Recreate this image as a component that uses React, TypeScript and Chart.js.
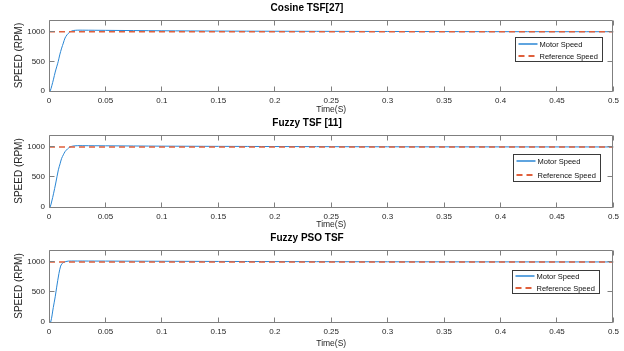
import React, { useEffect, useRef } from 'react';
import { Chart, registerables } from 'chart.js';

Chart.register(...registerables);

// Axis ticks and labels
const xTicks = [0, 0.05, 0.1, 0.15, 0.2, 0.25, 0.3, 0.35, 0.4, 0.45, 0.5];
const yTicks = [0, 500, 1000];
const seriesLabels = ['Motor Speed', 'Reference Speed'];
const panelTitles = ['Cosine TSF[27]', 'Fuzzy TSF [11]', 'Fuzzy PSO TSF'];
const referenceSpeed = 1000;

// Cosine TSF speed response (s, rpm)
const cosineTime = [0, 0.001, 0.0025, 0.004, 0.0055, 0.007, 0.0082, 0.0095, 0.0112, 0.0127, 0.0142, 0.016, 0.018, 0.02, 0.0215, 0.025, 0.03, 0.05, 0.1, 0.15, 0.2, 0.3, 0.4, 0.5];
const cosineSpeed = [0, 0, 90, 200, 320, 420, 500, 610, 725, 810, 895, 950, 990, 1012, 1022, 1028, 1028, 1025, 1018, 1013, 1010, 1006, 1003, 1002];

// Fuzzy TSF speed response
const fuzzyTime = [0, 0.001, 0.0025, 0.004, 0.006, 0.0083, 0.0098, 0.0112, 0.0127, 0.0142, 0.0165, 0.0186, 0.021, 0.025, 0.03, 0.05, 0.1, 0.2, 0.3, 0.5];
const fuzzySpeed = [0, 0, 100, 220, 400, 620, 720, 811, 870, 922, 970, 1000, 1015, 1022, 1022, 1020, 1014, 1008, 1004, 1001];

// Fuzzy PSO TSF speed response
const psoTime = [0, 0.0015, 0.0038, 0.0055, 0.0068, 0.0088, 0.0103, 0.0115, 0.0127, 0.015, 0.0171, 0.02, 0.03, 0.05, 0.1, 0.2, 0.3, 0.5];
const psoSpeed = [0, 0, 242, 420, 581, 808, 932, 970, 990, 1008, 1015, 1016, 1016, 1015, 1012, 1007, 1004, 1001];

const FONT = '"Liberation Sans", Arial, Helvetica, sans-serif';
const MOTOR_COLOR = '#2a86d4';
const REF_COLOR = '#e0603c';
const REF_DASH = [6, 4];
const AXIS_COLOR = '#7f7f7f';

// MATLAB-style axes: full box with inward tick marks on all four sides
const axesBoxPlugin = {
  id: 'axesBox',
  afterDatasetsDraw(chart: any) {
    const { ctx, chartArea: a, scales } = chart;
    const px = (v: number) => Math.floor(v) + 0.5;
    const L = px(a.left), R = px(a.right - 1), T = px(a.top), B = px(a.bottom);
    const len = 5;
    ctx.save();
    ctx.strokeStyle = AXIS_COLOR;
    ctx.lineWidth = 1;
    ctx.setLineDash([]);
    ctx.beginPath();
    ctx.rect(L, T, R - L, B - T);
    for (const t of scales.x.ticks) {
      const x = px(scales.x.getPixelForValue(t.value));
      ctx.moveTo(x, B); ctx.lineTo(x, B - len);
      ctx.moveTo(x, T); ctx.lineTo(x, T + len);
    }
    for (const t of scales.y.ticks) {
      const y = px(scales.y.getPixelForValue(t.value));
      ctx.moveTo(L, y); ctx.lineTo(L + len, y);
      ctx.moveTo(R, y); ctx.lineTo(R - len, y);
    }
    ctx.stroke();
    ctx.restore();
  },
};

// Boxed legend drawn inside the plot area
const boxLegendPlugin = {
  id: 'boxLegend',
  afterDraw(chart: any, _args: any, opts: any) {
    const { ctx, chartArea: a } = chart;
    const w = opts.width, h = opts.height;
    const x0 = Math.floor(a.right - opts.right - w) + 0.5;
    const y0 = Math.floor(a.top + opts.top) + 0.5;
    ctx.save();
    ctx.fillStyle = '#ffffff';
    ctx.fillRect(x0, y0, w, h);
    ctx.strokeStyle = '#3a3a3a';
    ctx.lineWidth = 1;
    ctx.setLineDash([]);
    ctx.strokeRect(x0, y0, w, h);
    const rowH = h / chart.data.datasets.length;
    chart.data.datasets.forEach((ds: any, i: number) => {
      const cy = Math.round(y0 + rowH * (i + 0.5));
      ctx.beginPath();
      ctx.strokeStyle = ds.borderColor;
      ctx.lineWidth = ds.borderWidth + 0.5;
      ctx.setLineDash(ds.borderDash || []);
      ctx.moveTo(x0 + 3, cy);
      ctx.lineTo(x0 + 22, cy);
      ctx.stroke();
      ctx.setLineDash([]);
      ctx.fillStyle = '#111111';
      ctx.font = `7.5px ${FONT}`;
      ctx.textBaseline = 'middle';
      ctx.textAlign = 'left';
      ctx.fillText(ds.label, x0 + 24, cy + 0.5);
    });
    ctx.restore();
  },
};

type PanelProps = {
  top: number;
  height: number;
  title: string;
  time: number[];
  speed: number[];
  xAxisHeight: number;
  timeTitlePad: number;
  legend: { right: number; top: number; width: number; height: number };
};

function SpeedPanel(p: PanelProps) {
  const ref = useRef<HTMLCanvasElement | null>(null);

  useEffect(() => {
    if (!ref.current) return;
    const tickFont = { family: FONT, size: 8 };
    const chart = new Chart(ref.current, {
      type: 'line',
      data: {
        datasets: [
          {
            label: seriesLabels[0],
            data: p.time.map((t, i) => ({ x: t, y: p.speed[i] })),
            borderColor: MOTOR_COLOR,
            borderWidth: 1,
            pointRadius: 0,
            tension: 0.3,
            order: 1,
          },
          {
            label: seriesLabels[1],
            data: [
              { x: xTicks[0], y: referenceSpeed },
              { x: xTicks[xTicks.length - 1], y: referenceSpeed },
            ],
            borderColor: REF_COLOR,
            borderWidth: 1.5,
            borderDash: REF_DASH,
            pointRadius: 0,
            order: 0,
          },
        ],
      },
      options: {
        responsive: false,
        animation: false,
        devicePixelRatio: 1,
        layout: { padding: { left: 0, right: 10, top: 0, bottom: 0 } },
        plugins: {
          legend: { display: false },
          tooltip: { enabled: false },
          title: {
            display: true,
            text: p.title,
            color: '#000000',
            font: { family: FONT, size: 10, weight: 'bold' },
            padding: { top: 2, bottom: 6 },
          },
          boxLegend: p.legend,
        } as any,
        scales: {
          x: {
            type: 'linear',
            min: xTicks[0],
            max: xTicks[xTicks.length - 1],
            afterBuildTicks: (s: any) => {
              s.ticks = xTicks.map((v) => ({ value: v }));
            },
            afterFit: (s: any) => {
              s.height = p.xAxisHeight;
            },
            grid: { display: false, drawTicks: false },
            border: { display: false },
            ticks: {
              autoSkip: false,
              maxRotation: 0,
              padding: 5,
              color: '#262626',
              font: tickFont,
              callback: (v: any) => String(+Number(v).toFixed(2)),
            },
            title: {
              display: true,
              text: 'Time(S)',
              color: '#262626',
              font: { family: FONT, size: 8.5 },
              padding: { top: 0, bottom: p.timeTitlePad },
            },
          },
          y: {
            type: 'linear',
            min: 0,
            max: 1200,
            afterBuildTicks: (s: any) => {
              s.ticks = yTicks.map((v) => ({ value: v }));
            },
            afterFit: (s: any) => {
              s.width = 49;
            },
            grid: { display: false, drawTicks: false },
            border: { display: false },
            ticks: {
              padding: 4,
              color: '#262626',
              font: tickFont,
              callback: (v: any) => String(v),
            },
            title: {
              display: true,
              text: 'SPEED (RPM)',
              color: '#262626',
              font: { family: FONT, size: 10 },
              padding: { top: 13, bottom: 0 },
            },
          },
        },
      },
      plugins: [axesBoxPlugin, boxLegendPlugin],
    } as any);
    return () => chart.destroy();
  }, []);

  return (
    <canvas
      ref={ref}
      width={624}
      height={p.height}
      style={{ position: 'absolute', left: 0, top: p.top, width: 624, height: p.height }}
    />
  );
}

export default function App() {
  return (
    <div
      style={{
        position: 'fixed',
        left: 0,
        top: 0,
        width: 624,
        height: 351,
        background: '#ffffff',
        overflow: 'hidden',
      }}
    >
      <SpeedPanel
        top={0}
        height={115}
        title={panelTitles[0]}
        time={cosineTime}
        speed={cosineSpeed}
        xAxisHeight={24}
        timeTitlePad={0.5}
        legend={{ right: 11, top: 17, width: 87, height: 24 }}
      />
      <SpeedPanel
        top={115}
        height={115}
        title={panelTitles[1]}
        time={fuzzyTime}
        speed={fuzzySpeed}
        xAxisHeight={23}
        timeTitlePad={0}
        legend={{ right: 13, top: 19, width: 87, height: 27 }}
      />
      <SpeedPanel
        top={230}
        height={121}
        title={panelTitles[2]}
        time={psoTime}
        speed={psoSpeed}
        xAxisHeight={29}
        timeTitlePad={2.5}
        legend={{ right: 14, top: 20, width: 87, height: 23 }}
      />
    </div>
  );
}
